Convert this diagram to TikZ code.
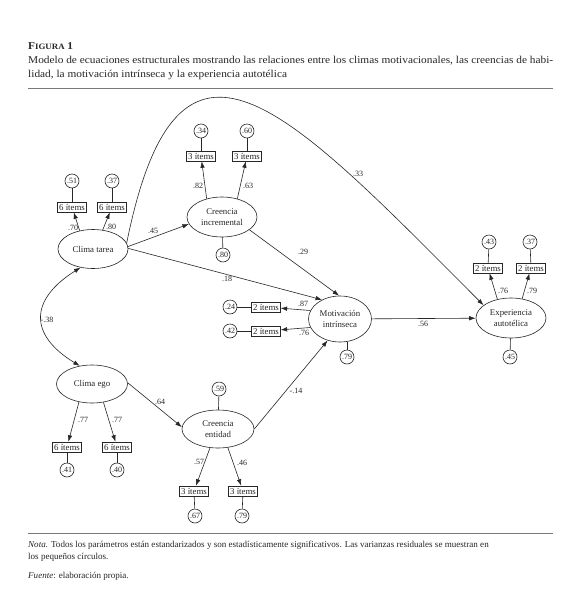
\documentclass[tikz,border=0pt]{standalone}
\usepackage{fontspec}
\setmainfont{Liberation Serif}
\newfontfamily\capfont[FakeStretch=1.08]{Liberation Serif}
\usetikzlibrary{arrows.meta,shapes.geometric}
\definecolor{ink}{RGB}{40,38,38}
\definecolor{rulec}{RGB}{120,120,120}
\begin{document}
\begin{tikzpicture}[x=1pt,y=-1pt,
  every node/.style={text=ink},
  lat/.style={ellipse,draw=ink,line width=0.6pt,inner sep=0pt,align=center,minimum width=70pt,minimum height=39pt,font=\fontsize{8.8}{11}\selectfont},
  ind/.style={rectangle,draw=ink,line width=0.6pt,inner xsep=1.5pt,inner ysep=0.6pt,minimum height=10pt,font=\fontsize{8.8}{9}\selectfont},
  res/.style={circle,draw=ink,line width=0.6pt,inner sep=0pt,minimum size=14pt,font=\fontsize{8}{8}\selectfont},
  lab/.style={inner sep=0pt,font=\fontsize{8}{8}\selectfont},
  arr/.style={draw=ink,line width=0.6pt,-{Latex[length=6.5pt,width=4.5pt]}},
  dbl/.style={draw=ink,line width=0.6pt,{Latex[length=6.5pt,width=4.5pt]}-{Latex[length=6.5pt,width=4.5pt]}},
  ln/.style={draw=ink,line width=0.6pt},
  txt/.style={inner sep=0pt,anchor=west}
]
\useasboundingbox (0,0) rectangle (580,611);
\fill[white] (0,0) rectangle (580,611);

% caption
\node[txt,font=\capfont\fontsize{10.5}{12}\selectfont] (fig) at (28,46) {\textbf{F{\fontsize{8.2}{10}\selectfont IGURA} 1}};
\node[txt,font=\capfont\fontsize{10.5}{12}\selectfont] (cap1) at (28,61) {Modelo de ecuaciones estructurales mostrando las relaciones entre los climas motivacionales, las creencias de habi-};
\node[txt,font=\capfont\fontsize{10.5}{12}\selectfont] (cap2) at (28,75) {lidad, la motivación intrínseca y la experiencia autotélica};
\coordinate (ra) at (28,88); \coordinate (rb) at (553,88);
\draw[rulec,line width=0.9pt] (ra) -- (rb);
\coordinate (rc) at (28,533); \coordinate (rd) at (553,533);
\draw[rulec,line width=0.9pt] (rc) -- (rd);
\node[txt,font=\fontsize{9.05}{10}\selectfont] (nota1) at (28,545) {\textit{Nota.} Todos los parámetros están estandarizados y son estadísticamente significativos. Las varianzas residuales se muestran en};
\node[txt,font=\fontsize{9.05}{10}\selectfont] (nota2) at (28,557) {los pequeños círculos.};
\node[txt,font=\fontsize{9.05}{10}\selectfont] (fuente) at (28,576) {\textit{Fuente}: elaboración propia.};

% latent variables
\node[lat] (ct) at (93,249) {Clima tarea};
\node[lat,minimum height=40pt] (ci) at (222,217) {Creencia\\incremental};
\node[lat,minimum width=63pt,minimum height=46pt] (mi) at (340,319) {Motivación\\intrínseca};
\node[lat,minimum height=40pt] (ea) at (511,318) {Experiencia\\autotélica};
\node[lat,minimum width=71pt,minimum height=38pt] (ce) at (92,384) {Clima ego};
\node[lat,minimum width=72pt,minimum height=38pt] (cn) at (218,429) {Creencia\\entidad};

% indicators
\node[ind] (ct1) at (72,207) {6 ítems};
\node[ind] (ct2) at (112,207) {6 ítems};
\node[res] (rct1) at (72,181) {.51};
\node[res] (rct2) at (112,181) {.37};

\node[ind] (ci1) at (201,156) {3 ítems};
\node[ind] (ci2) at (247,156) {3 ítems};
\node[res] (rci1) at (201,131) {.34};
\node[res] (rci2) at (247,131) {.60};
\node[res] (rci) at (223,255) {.80};

\node[ind] (mi1) at (266,307) {2 ítems};
\node[ind] (mi2) at (266,331) {2 ítems};
\node[res] (rmi1) at (230,307) {.24};
\node[res] (rmi2) at (230,331) {.42};
\node[res] (rmi) at (347,357) {.79};

\node[ind] (ea1) at (488,268) {2 ítems};
\node[ind] (ea2) at (531,268) {2 ítems};
\node[res] (rea1) at (489,242) {.43};
\node[res] (rea2) at (530,242) {.37};
\node[res] (rea) at (510,357) {.45};

\node[ind] (ce1) at (67,447) {6 ítems};
\node[ind] (ce2) at (117,447) {6 ítems};
\node[res] (rce1) at (67,470) {.41};
\node[res] (rce2) at (117,470) {.40};

\node[ind] (cn1) at (194,491) {3 ítems};
\node[ind] (cn2) at (243,491) {3 ítems};
\node[res] (rcn1) at (195,516) {.67};
\node[res] (rcn2) at (242,516) {.79};
\node[res] (rcn) at (219,389) {.59};

% residual lines
\draw[ln] (rct1) -- (ct1); \draw[ln] (rct2) -- (ct2);
\draw[ln] (rci1) -- (ci1); \draw[ln] (rci2) -- (ci2); \draw[ln] (rci) -- (ci);
\draw[ln] (rmi1) -- (mi1); \draw[ln] (rmi2) -- (mi2); \draw[ln] (rmi) -- (rmi |- mi.south);
\draw[ln] (rea1) -- (ea1); \draw[ln] (rea2) -- (ea2); \draw[ln] (rea) -- (ea);
\draw[ln] (rce1) -- (ce1); \draw[ln] (rce2) -- (ce2);
\draw[ln] (rcn1) -- (cn1); \draw[ln] (rcn2) -- (cn2); \draw[ln] (rcn) -- (cn);

% loadings
\draw[arr] (ct.126) -- (ct1);
\draw[arr] (ct.63) -- (ct2);
\draw[arr] (ci.130) -- (ci1);
\draw[arr] (ci.50) -- (ci2);
\draw[arr] (mi.164) -- (mi1);
\draw[arr] (mi.196) -- (mi2);
\draw[arr] (ea.126) -- (ea1);
\draw[arr] (ea.60) -- (ea2);
\draw[arr] (ce.234) -- (ce1);
\draw[arr] (ce.302) -- (ce2);
\draw[arr] (cn.247) -- (cn1);
\draw[arr] (cn.298) -- (cn2);

% structural paths
\draw[arr] (ct.4) -- (ci.192);
\draw[arr] (ct.1) -- (mi.133);
\draw[arr] (ci.335) -- (mi.92);
\draw[arr] (cn.0) -- (mi.240);
\draw[arr] (ce.2) -- (cn.177);
\draw[arr] (mi) -- (ea);
\draw[arr] (ct.10) .. controls (178,-11) and (284,105) .. (ea.155);
\draw[dbl] (ct.236) .. controls (29,300) and (29,335) .. (ce.124);

% labels
\node[lab] (l70) at (73,228) {.70};
\node[lab] (l80) at (111,227) {.80};
\node[lab] (l45) at (153,231) {.45};
\node[lab] (l18) at (227,279) {.18};
\node[lab] (l33) at (358,174) {.33};
\node[lab] (l82) at (198,186) {.82};
\node[lab] (l63) at (248,186) {.63};
\node[lab] (l29) at (303,252) {.29};
\node[lab] (l87) at (303,304) {.87};
\node[lab] (l76) at (304,333) {.76};
\node[lab] (l56) at (423,324) {.56};
\node[lab] (l76b) at (503,291) {.76};
\node[lab] (l79) at (532,291) {.79};
\node[lab] (l38) at (47,320) {-.38};
\node[lab] (l64) at (160,402) {.64};
\node[lab] (l77a) at (83,420) {.77};
\node[lab] (l77b) at (117,420) {.77};
\node[lab] (l14) at (296,391) {-.14};
\node[lab] (l57) at (199,462) {.57};
\node[lab] (l46) at (242,463) {.46};
\end{tikzpicture}
\end{document}
